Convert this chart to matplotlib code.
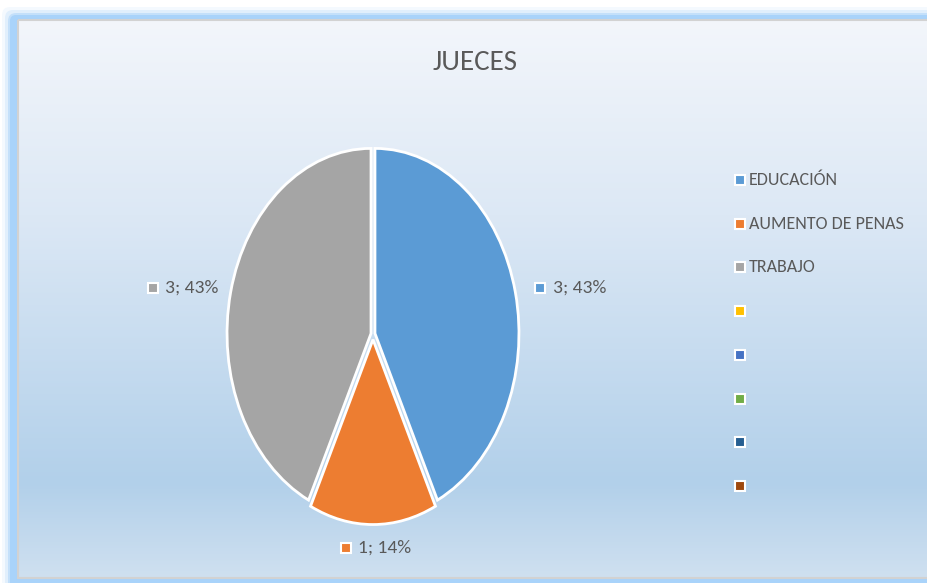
import numpy as np
import matplotlib
matplotlib.use("Agg")
import matplotlib.pyplot as plt
from matplotlib.patches import Rectangle, FancyBboxPatch

# ---- data ----
title = "JUECES"
categories = ["EDUCACIÓN", "AUMENTO DE PENAS", "TRABAJO", "", "", "", "", ""]
values = [3, 1, 3, 0, 0, 0, 0, 0]
colors = ["#5b9bd5", "#ed7d31", "#a5a5a5", "#ffc000", "#4472c4", "#70ad47", "#255e91", "#9e480e"]

FONT = ["Carlito", "DejaVu Sans"]
TXT = "#595959"

W, H = 927, 583
fig = plt.figure(figsize=(W / 100, H / 100), dpi=100)
fig.patch.set_facecolor("white")

# ---- background / frame ----
bg = fig.add_axes([0, 0, 1, 1])
bg.axis("off")

# outer glow
for pad, a in [(8, 0.12), (5, 0.25), (2, 0.5)]:
    bg.add_patch(FancyBboxPatch((10 - pad, 15 - pad), W + 20, H, boxstyle="round,pad=0,rounding_size=8",
                                fc="#a9d3fa", ec="none", alpha=a))
bg.add_patch(FancyBboxPatch((10, 15), W + 20, H, boxstyle="round,pad=0,rounding_size=6",
                            fc="#a9d3fa", ec="none"))

# gradient panel
stops = [(0.0, (243, 246, 251)), (0.35, (220, 232, 245)), (0.83, (178, 208, 234)), (1.0, (207, 224, 240))]
yy = np.linspace(0, 1, 400)
grad = np.zeros((400, 1, 3))
for c in range(3):
    grad[:, 0, c] = np.interp(yy, [s[0] for s in stops], [s[1][c] / 255 for s in stops])
px0, py0, px1, py1 = 18, 20, W + 5, 578
bg.imshow(grad, extent=(px0, px1, py1, py0), aspect="auto", zorder=1)
bg.add_patch(Rectangle((px0, py0), px1 - px0, py1 - py0, fc="none", ec="#d2d2d2", lw=1.5, zorder=2))
bg.set_xlim(0, W)
bg.set_ylim(H, 0)

# title
fig.text(475 / W, 1 - 63 / H, title, ha="center", va="center", fontsize=21, color=TXT, family=FONT)

# ---- pie ----
cx, cy, rx, ry = 373, 334, 144, 185
ax = fig.add_axes([(cx - rx) / W, 1 - (cy + ry) / H, 2 * rx / W, 2 * ry / H])
ax.patch.set_alpha(0)
n_real = 3
wedges, _ = ax.pie(values[:n_real], colors=colors[:n_real], startangle=90, counterclock=False,
                   explode=[0.014, 0.03, 0.014],
                   wedgeprops=dict(edgecolor="white", linewidth=2))
ax.set_aspect("auto")
ax.set_xlim(-1, 1)
ax.set_ylim(-1, 1)
ax.axis("off")

total = sum(values)
# label anchor positions (square marker location, data units of pie axes)
label_pos = [(1.16, 0.25), (-0.19, -1.155), (-1.53, 0.25)]
for i in range(n_real):
    sx, sy = label_pos[i]
    ax.plot([sx], [sy], marker="s", ms=7, mfc=colors[i], mec="white", mew=1.5, clip_on=False)
    ax.annotate(f"{values[i]}; {values[i] / total:.0%}", (sx, sy), xytext=(9, 0), textcoords="offset points",
                ha="left", va="center", fontsize=14, color=TXT, family=FONT, annotation_clip=False)

# ---- legend ----
for i, (name, col) in enumerate(zip(categories, colors)):
    y = 180 + i * 43.7
    bg.plot([740], [y], marker="s", ms=7, mfc=col, mec="white", mew=1.5, zorder=5)
    bg.text(749, y, name, ha="left", va="center", fontsize=13, color=TXT, family=FONT, zorder=5)

fig.savefig("out.png", dpi=100, facecolor="white")
